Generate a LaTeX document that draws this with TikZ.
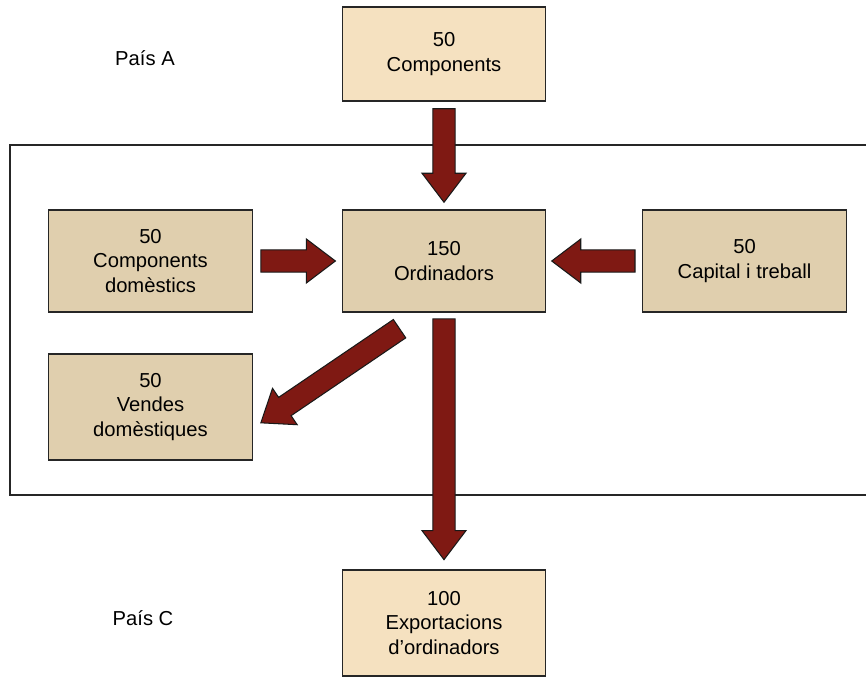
\documentclass[tikz,border=0pt]{standalone}
\usepackage{fontspec}
\setmainfont{Liberation Sans}
\usetikzlibrary{calc}

\definecolor{outerfill}{HTML}{F5E1C0}
\definecolor{innerfill}{HTML}{E0CFAE}
\definecolor{arrowred}{HTML}{7F1913}

% fat block arrow from #1 to #2 (tip at #2)
\newcommand\fatarrow[2]{%
  \coordinate (fa-s) at (#1);
  \coordinate (fa-t) at (#2);
  \coordinate (fa-h) at ($(fa-t)!16.5pt!(fa-s)$);
  \draw[fatarrow] ($(fa-s)!6.3pt!90:(fa-t)$) -- ($(fa-h)!6.3pt!90:(fa-t)$)
    -- ($(fa-h)!12.5pt!90:(fa-t)$) -- (fa-t) -- ($(fa-h)!12.5pt!-90:(fa-t)$)
    -- ($(fa-h)!6.3pt!-90:(fa-t)$) -- ($(fa-s)!6.3pt!-90:(fa-t)$) -- cycle;}

\begin{document}
\begin{tikzpicture}[
    every node/.style={font=\fontsize{11.5}{14}\selectfont, align=center},
    box/.style={draw=black!85, line width=0.8pt, minimum width=4.07cm, minimum height=2.04cm, inner sep=0pt},
    outerbox/.style={box, fill=outerfill},
    innerbox/.style={box, fill=innerfill},
    fatarrow/.style={fill=arrowred, draw=black!90, line width=0.6pt, line join=miter},
]
    \useasboundingbox (0,0) rectangle (17.32,-13.54);

    % country frame
    \draw[line width=0.8pt, black!85] (0.2,-2.9) rectangle (17.6,-9.9);

    \node[] (paisA) at (2.9,-1.16) {País A};
    \node[] (paisC) at (2.86,-12.36) {País C};

    \node[outerbox, minimum height=1.88cm] (compA) at (8.88,-1.08) {50\\Components};
    \node[innerbox] (dom) at (3.01,-5.22) {50\\Components\\domèstics};
    \node[innerbox] (ord) at (8.88,-5.22) {150\\Ordinadors};
    \node[innerbox] (cap) at (14.89,-5.22) {50\\Capital i treball};
    \node[innerbox, minimum height=2.12cm] (vend) at (3.01,-8.14) {50\\Vendes\\domèstiques};
    \node[outerbox, minimum height=2.12cm] (expo) at (8.88,-12.46) {100\\Exportacions\\d’ordinadors};

    \fatarrow{[yshift=-4pt]compA.south}{[yshift=4pt]ord.north}
    \fatarrow{[xshift=4.5pt]dom.east}{[xshift=-3.5pt]ord.west}
    \fatarrow{[xshift=-4pt]cap.west}{[xshift=3pt]ord.east}
    \fatarrow{[xshift=-25.3pt,yshift=-9.1pt]ord.south}{[xshift=4.5pt,yshift=-9pt]vend.east}
    \fatarrow{[yshift=-3.5pt]ord.south}{[yshift=5.5pt]expo.north}

\end{tikzpicture}
\end{document}
